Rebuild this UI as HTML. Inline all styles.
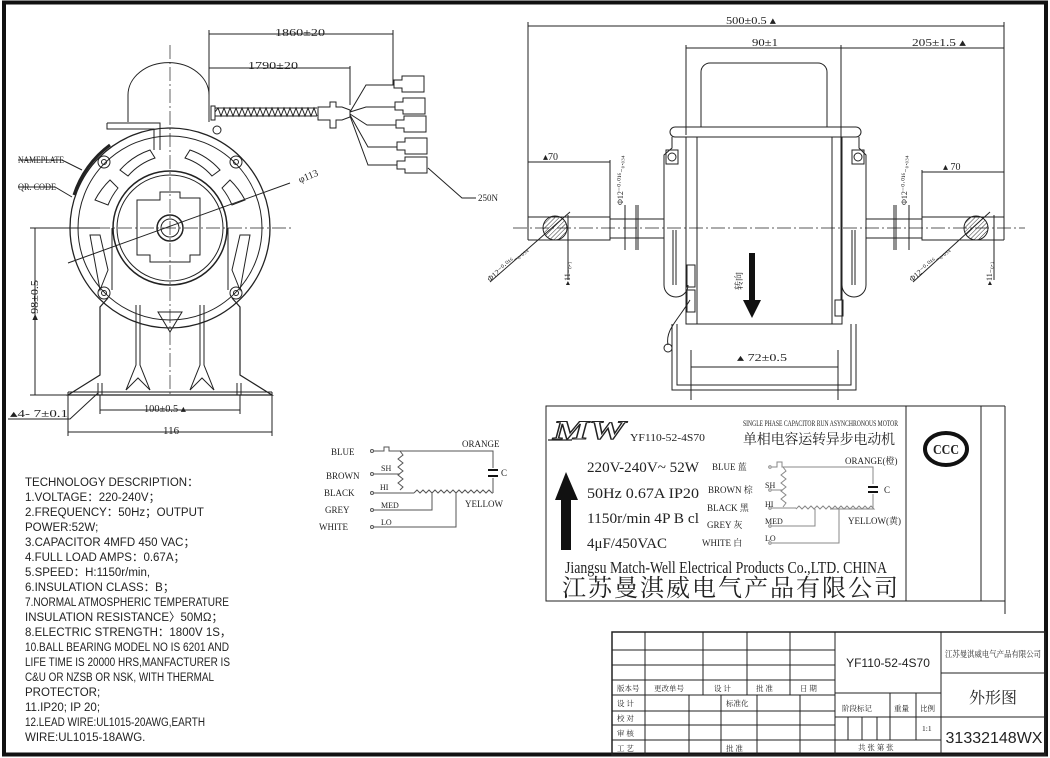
<!DOCTYPE html>
<html><head><meta charset="utf-8"><style>
html,body{margin:0;padding:0;background:#fff;}
svg{display:block;}
text{font-family:"Liberation Serif","Noto Serif CJK SC",serif;fill:#222;}
.s{font-family:"Liberation Sans","Noto Sans CJK SC",sans-serif;}
</style></head><body>
<svg width="1050" height="758" viewBox="0 0 1050 758" xmlns="http://www.w3.org/2000/svg">
<defs>
<pattern id="h" width="3" height="3" patternUnits="userSpaceOnUse" patternTransform="rotate(45)"><line x1="0" y1="0" x2="0" y2="3" stroke="#333" stroke-width="1"/></pattern>
</defs>
<rect x="0" y="0" width="1050" height="758" fill="#fff"/>
<rect x="4" y="2.5" width="1042" height="752" fill="none" stroke="#111" stroke-width="4"/>

<g fill="none" stroke="#222" stroke-width="1">
<line x1="209" y1="34" x2="393" y2="34"/><line x1="209" y1="30" x2="209" y2="112"/><line x1="393" y1="30" x2="393" y2="85"/>
<line x1="209" y1="68" x2="350" y2="68"/><line x1="350" y1="66" x2="350" y2="105"/>
<path d="M128 122 V95 A40 32 0 0 1 209 95 V122"/>
<path d="M107 123 H160 V150 M107 123 V129 H154 V150"/>
<circle cx="170" cy="228" r="100" stroke-width="1.3"/>
<circle cx="170" cy="228" r="92"/>
<circle cx="170" cy="228" r="57" stroke-width="1.5"/>
<circle cx="170" cy="228" r="53"/>
<path d="M160 192 H180 V198 H200 V255 H190 V262 H150 V255 H137 V200 H160 Z"/>
<circle cx="170" cy="228" r="13" stroke-width="1.5"/>
<circle cx="170" cy="228" r="9"/>
<path d="M120 170 A70 70 0 0 1 150 150 L155 158 A62 62 0 0 0 128 176 Z"/>
<path d="M220 170 A70 70 0 0 0 190 150 L185 158 A62 62 0 0 1 212 176 Z"/>
<path d="M95 200 A80 80 0 0 1 110 180 L118 188 A70 70 0 0 0 108 205 Z"/>
<path d="M245 200 A80 80 0 0 0 230 180 L222 188 A70 70 0 0 1 232 205 Z"/>
<path d="M90 235 L100 290 L108 270 L100 235 Z"/><path d="M250 235 L240 290 L232 270 L240 235 Z"/>
<line x1="112" y1="228" x2="112" y2="290"/><line x1="228" y1="228" x2="228" y2="290"/>
<circle cx="104" cy="162" r="6"/><circle cx="104" cy="162" r="2.5"/>
<circle cx="236" cy="162" r="6"/><circle cx="236" cy="162" r="2.5"/>
<circle cx="104" cy="293" r="6"/><circle cx="104" cy="293" r="2.5"/>
<circle cx="236" cy="293" r="6"/><circle cx="236" cy="293" r="2.5"/>
<circle cx="217" cy="130" r="4"/>
<path d="M108 298 L100 307 V375 L68 395 H272 L240 375 V307 L232 298" stroke-width="1.2"/>
<line x1="68" y1="392" x2="272" y2="392"/>
<path d="M136 305 V365 L126 390 M140 305 V365 L150 390 M200 305 V365 L190 390 M204 305 V365 L214 390"/>
<path d="M126 390 L138 378 L150 390 M190 390 L202 378 L214 390"/>
<path d="M158 312 H182 L170 332 Z"/>
<path d="M98 383 V395 M102 383 V395 M237 383 V395 M241 383 V395"/>
<path d="M74 195 A100 100 0 0 1 110 145" stroke-width="3"/>
<polyline points="18,160 62,160 82,170"/><polyline points="18,187 55,187 72,197"/>
<line x1="68" y1="263" x2="290" y2="183"/>
<line x1="30" y1="228" x2="292" y2="228" stroke-dasharray="14,3,2,3" stroke-width="0.7"/>
<line x1="170" y1="45" x2="170" y2="395" stroke-dasharray="14,3,2,3" stroke-width="0.7"/>
<rect x="211" y="106" width="4" height="14"/>
<path d="M215 108 h102 M215 116 h102"/>
<path d="M215 112 l3 -4 l3 8 l3 -8 l3 8 l3 -8 l3 8 l3 -8 l3 8 l3 -8 l3 8 l3 -8 l3 8 l3 -8 l3 8 l3 -8 l3 8 l3 -8 l3 8 l3 -8 l3 8 l3 -8 l3 8 l3 -8 l3 8 l3 -8 l3 8 l3 -8 l3 8 l3 -8 l3 8 l3 -8 l3 8 l3 -8 l3 8"/>
<path d="M318 107 H330 V102 H336 V107 H342 L350 110 V117 L342 120 H336 V128 H330 V120 H318 Z"/>
<path d="M350 112 L366 85 H394 M350 112 L366 107 H395 M350 114 L367 125 H396 M350 115 L368 147 H397 M350 116 L368 165 H397"/>
<path d="M394 80 h8 v-4 h22 v16 h-22 v-4 h-8 z"/>
<path d="M395 102 h8 v-4 h22 v16 h-22 v-4 h-8 z"/>
<path d="M396 120 h8 v-4 h22 v16 h-22 v-4 h-8 z"/>
<path d="M397 142 h8 v-4 h22 v16 h-22 v-4 h-8 z"/>
<path d="M397 161 h8 v-4 h22 v16 h-22 v-4 h-8 z"/>
<polyline points="428,168 462,198 476,198"/>
<line x1="35" y1="228" x2="35" y2="395"/><line x1="30" y1="228" x2="100" y2="228"/><line x1="30" y1="395" x2="68" y2="395"/>
<line x1="100" y1="395" x2="100" y2="414"/><line x1="240" y1="395" x2="240" y2="414"/>
<line x1="100" y1="410" x2="240" y2="410"/>
<line x1="68" y1="392" x2="68" y2="436"/><line x1="272" y1="392" x2="272" y2="436"/>
<line x1="68" y1="432" x2="272" y2="432"/>
<polyline points="8,419 70,419 98,393"/>

<line x1="528" y1="26" x2="1004" y2="26"/>
<line x1="528" y1="22" x2="528" y2="240"/><line x1="1004" y1="22" x2="1004" y2="240"/>
<line x1="686" y1="48" x2="1004" y2="48"/>
<line x1="686" y1="45" x2="686" y2="135"/><line x1="841" y1="45" x2="841" y2="300"/>
<path d="M701 127 V72 A9 9 0 0 1 710 63 H818 A9 9 0 0 1 827 72 V127"/>
<rect x="670" y="127" width="191" height="10" rx="5"/>
<rect x="686" y="137" width="156" height="187"/>
<line x1="697" y1="137" x2="697" y2="324"/><line x1="832" y1="137" x2="832" y2="324"/>
<path d="M672 137 V148 L664 155 V285 A12 12 0 0 0 688 285"/>
<path d="M859 137 V148 L866 155 V285 A12 12 0 0 1 842 285"/>
<rect x="666" y="150" width="12" height="14"/><circle cx="672" cy="157" r="4"/>
<rect x="852" y="150" width="12" height="14"/><circle cx="858" cy="157" r="4"/>
<line x1="673" y1="230" x2="673" y2="285"/><line x1="676" y1="230" x2="676" y2="285"/>
<line x1="852" y1="230" x2="852" y2="285"/><line x1="855" y1="230" x2="855" y2="285"/>
<path d="M528 217 H610 V219 H664 M528 240 H610 V238 H664 M528 217 V240"/>
<path d="M1004 217 H922 V219 H866 M1004 240 H922 V238 H866 M1004 217 V240"/>
<line x1="610" y1="217" x2="610" y2="240"/><line x1="922" y1="217" x2="922" y2="240"/>
<path d="M636 205 V250 M638 205 V250 M894 205 V250 M896 205 V250"/>
<circle cx="555" cy="228" r="12" fill="url(#h)"/>
<circle cx="976" cy="228" r="12" fill="url(#h)"/>
<line x1="513" y1="228" x2="1025" y2="228" stroke-dasharray="14,3,2,3" stroke-width="0.7"/>
<path d="M672 324 V390 H856 V324 M677 324 V385 H851 V324"/>
<path d="M690 300 C678 320 665 330 668 345"/><circle cx="668" cy="348" r="4"/>
<rect x="687" y="265" width="8" height="22"/><rect x="687" y="290" width="8" height="22"/>
<rect x="835" y="300" width="8" height="16"/>
<line x1="528" y1="162" x2="610" y2="162"/><line x1="610" y1="160" x2="610" y2="217"/>
<line x1="922" y1="172" x2="1004" y2="172"/><line x1="922" y1="170" x2="922" y2="217"/>
<line x1="691" y1="367" x2="838" y2="367"/><line x1="691" y1="350" x2="691" y2="400"/><line x1="838" y1="350" x2="838" y2="400"/>
<line x1="625" y1="205" x2="625" y2="250"/><line x1="909" y1="205" x2="909" y2="250"/>
<line x1="568" y1="215" x2="568" y2="280"/><line x1="994" y1="215" x2="994" y2="280"/>
<line x1="490" y1="282" x2="570" y2="212"/><line x1="913" y1="282" x2="990" y2="212"/>

<g stroke="#555">
<circle cx="372" cy="451" r="1.5"/><circle cx="372" cy="474" r="1.5"/><circle cx="372" cy="493" r="1.5"/><circle cx="372" cy="510" r="1.5"/><circle cx="372" cy="527" r="1.5"/>
<path d="M374 451 H384 V447 H389 V451 H493 V468 M493 478 V493"/>
<path d="M400 451 l3 4 l-5 4 l5 4 l-5 4 l5 4 l-5 4 l5 4 l-5 4 l5 4 l-3 3"/>
<path d="M374 474 H400 M374 493 H414"/>
<path d="M414 493 l3 -3 l3 3 l3 -3 l3 3 l3 -3 l3 3 l3 -3 l3 3 l3 -3 l3 3 l3 -3 l3 3 l3 -3 l3 3 l3 -3 l3 3 l3 -3 l3 3 l3 -3 l3 3 l3 -3 l3 3 l3 -3 l3 3 l3 -3 l3 3 H493"/>
<path d="M374 510 H432 V493 M374 527 H456 V493"/>
<path d="M488 470 H498 M488 476 H498" stroke="#111" stroke-width="2"/>
</g>

<rect x="546" y="406" width="435" height="195"/>
<line x1="906" y1="406" x2="906" y2="601"/>
<line x1="981" y1="406" x2="1005" y2="406"/><line x1="1005" y1="406" x2="1005" y2="614"/>
<line x1="546" y1="601" x2="1005" y2="601"/>
<path d="M548 440 H572" stroke-width="1.2"/>
<ellipse cx="946" cy="449" rx="21" ry="16" stroke="#111" stroke-width="4"/>
<g stroke="#888">
<circle cx="770" cy="467" r="1.3"/><circle cx="770" cy="490" r="1.3"/><circle cx="770" cy="508" r="1.3"/><circle cx="770" cy="526" r="1.3"/><circle cx="770" cy="543" r="1.3"/>
<path d="M772 467 H777 V462 H782 V467 H873 V484 M873 494 V509 H830"/>
<path d="M783 467 l3 4 l-5 4 l5 4 l-5 4 l5 4 l-5 4 l5 4 l-5 4 l5 4 l-3 4"/>
<path d="M772 490 H783 M772 508 H796"/>
<path d="M796 509 l3 -3 l3 3 l3 -3 l3 3 l3 -3 l3 3 l3 -3 l3 3 l3 -3 l3 3 l3 -3 l3 3 l3 -3 l3 3 l3 -3 l3 3 l3 -3 l3 3 l3 -3 l3 3 l3 -3 l3 3 l3 -3 l3 3 l3 -3 l3 3 H873"/>
<path d="M772 526 H815 V509 M772 543 H839 V509"/>
</g>
<path d="M868 487 H878 M868 492 H878" stroke="#111" stroke-width="2"/>

<rect x="612" y="632" width="433" height="123" stroke-width="1.5"/>
<path d="M835 632 V755 M941 632 V755"/>
<path d="M612 650 H835 M612 665 H835 M612 680 H835 M612 695 H835 M612 711 H835 M612 725 H835 M612 740 H835"/>
<path d="M645 632 V755 M703 632 V695 M747 632 V695 M790 632 V695"/>
<path d="M689 695 V755 M721 695 V755 M757 695 V755 M800 695 V755"/>
<path d="M835 693 H941 M835 717 H941 M835 740 H941"/>
<path d="M890 693 V740 M916 693 V740 M848 717 V740 M862 717 V740 M877 717 V740"/>
<path d="M941 673 H1045 M941 717 H1045"/>
</g>
<path d="M555 500 L566 472 L578 500 H571 V550 H561 V500 Z" fill="#111"/>
<path d="M749 253 V300 H743 L752 318 L761 300 H755 V253 Z" fill="#111"/>

<text x="553" y="439" font-size="26" font-style="italic" font-weight="bold" fill="none" stroke="#222" stroke-width="1" textLength="72" lengthAdjust="spacingAndGlyphs" style="fill:none">MW</text>

<g font-size="11">
<text x="275" y="36" textLength="50" lengthAdjust="spacingAndGlyphs">1860±20</text>
<text x="248" y="69" textLength="50" lengthAdjust="spacingAndGlyphs">1790±20</text>
<text x="18" y="163" font-size="9" textLength="46" lengthAdjust="spacingAndGlyphs">NAMEPLATE</text>
<text x="18" y="190" font-size="9" textLength="38" lengthAdjust="spacingAndGlyphs">QR. CODE</text>
<text x="300" y="183" font-size="10" transform="rotate(-22 300 183)">φ113</text>
<text x="478" y="201" font-size="9">250N</text>
<text x="38" y="320" transform="rotate(-90 38 320)" textLength="40" lengthAdjust="spacingAndGlyphs">▸98±0.5</text>
<text x="144" y="412" font-size="10" textLength="42" lengthAdjust="spacingAndGlyphs">100±0.5 ▴</text>
<text x="163" y="434">116</text>
<text x="10" y="417" font-size="10" textLength="58" lengthAdjust="spacingAndGlyphs">▴4-   7±0.1</text>

<text x="726" y="24" textLength="50" lengthAdjust="spacingAndGlyphs">500±0.5 ▴</text>
<text x="752" y="46" textLength="26" lengthAdjust="spacingAndGlyphs">90±1</text>
<text x="912" y="46" textLength="54" lengthAdjust="spacingAndGlyphs">205±1.5  ▴</text>
<text x="543" y="160" font-size="10">▴70</text>
<text x="943" y="170" font-size="10">▴  70</text>
<text x="737" y="361" font-size="10" textLength="50" lengthAdjust="spacingAndGlyphs">▴ 72±0.5</text>
<text x="623" y="205" font-size="8" transform="rotate(-90 623 205)">Φ12⁻⁰·⁰¹⁶₋₀.₀₃₄</text>
<text x="907" y="205" font-size="8" transform="rotate(-90 907 205)">Φ12⁻⁰·⁰¹⁶₋₀.₀₃₄</text>
<text x="490" y="282" font-size="8" transform="rotate(-40 490 282)">Φ12⁻⁰·⁰¹⁶₋₀.₀₃₄</text>
<text x="912" y="282" font-size="8" transform="rotate(-40 912 282)">Φ12⁻⁰·⁰¹⁶₋₀.₀₃₄</text>
<text x="570" y="285" font-size="8" transform="rotate(-90 570 285)">▸11₋₀.₁</text>
<text x="992" y="285" font-size="8" transform="rotate(-90 992 285)">▸11₋₀.₁</text>
<text x="742" y="290" font-size="9" transform="rotate(-90 742 290)">转向</text>
</g>

<g font-size="9">
<text x="331" y="455">BLUE</text><text x="326" y="479">BROWN</text><text x="324" y="496">BLACK</text>
<text x="325" y="513">GREY</text><text x="319" y="530">WHITE</text>
<text x="462" y="447">ORANGE</text><text x="465" y="507">YELLOW</text><text x="501" y="476">C</text>
<text x="381" y="471" font-size="8">SH</text><text x="380" y="490" font-size="8">HI</text>
<text x="381" y="508" font-size="8">MED</text><text x="381" y="525" font-size="8">LO</text>
</g>

<g font-size="11.5">
<text x="25" y="486" class="s">TECHNOLOGY DESCRIPTION：</text>
<text x="25" y="501" class="s">1.VOLTAGE：220-240V；</text>
<text x="25" y="516" class="s">2.FREQUENCY：50Hz；OUTPUT</text>
<text x="25" y="531" class="s">POWER:52W;</text>
<text x="25" y="546" class="s">3.CAPACITOR 4MFD 450 VAC；</text>
<text x="25" y="561" class="s">4.FULL LOAD  AMPS：0.67A；</text>
<text x="25" y="576" class="s">5.SPEED：H:1150r/min,</text>
<text x="25" y="591" class="s">6.INSULATION CLASS：B；</text>
<text x="25" y="606" class="s" textLength="204" lengthAdjust="spacingAndGlyphs">7.NORMAL ATMOSPHERIC TEMPERATURE</text>
<text x="25" y="621" class="s">INSULATION RESISTANCE〉50MΩ；</text>
<text x="25" y="636" class="s">8.ELECTRIC  STRENGTH：1800V 1S，</text>
<text x="25" y="651" class="s" textLength="204" lengthAdjust="spacingAndGlyphs">10.BALL  BEARING MODEL NO IS 6201 AND</text>
<text x="25" y="666" class="s" textLength="205" lengthAdjust="spacingAndGlyphs">LIFE TIME IS 20000 HRS,MANFACTURER IS</text>
<text x="25" y="681" class="s" textLength="189" lengthAdjust="spacingAndGlyphs">C&amp;U OR NZSB OR NSK, WITH THERMAL</text>
<text x="25" y="696" class="s">PROTECTOR;</text>
<text x="25" y="711" class="s">11.IP20; IP 20;</text>
<text x="25" y="726" class="s" textLength="180" lengthAdjust="spacingAndGlyphs">12.LEAD WIRE:UL1015-20AWG,EARTH</text>
<text x="25" y="741" class="s">WIRE:UL1015-18AWG.</text>
</g>

<text x="630" y="441" font-size="11" textLength="75" lengthAdjust="spacingAndGlyphs">YF110-52-4S70</text>
<text x="743" y="426" font-size="8" textLength="155" lengthAdjust="spacingAndGlyphs">SINGLE PHASE CAPACITOR RUN ASYNCHRONOUS MOTOR</text>
<text x="743" y="444" font-size="14" textLength="152" lengthAdjust="spacing">单相电容运转异步电动机</text>
<g font-size="15">
<text x="587" y="472" textLength="112" lengthAdjust="spacingAndGlyphs">220V-240V~   52W</text>
<text x="587" y="498" textLength="112" lengthAdjust="spacingAndGlyphs">50Hz  0.67A  IP20</text>
<text x="587" y="523" textLength="112" lengthAdjust="spacingAndGlyphs">1150r/min 4P  B cl</text>
<text x="587" y="548" textLength="80" lengthAdjust="spacingAndGlyphs">4μF/450VAC</text>
</g>
<g font-size="9">
<text x="712" y="470">BLUE 蓝</text><text x="708" y="493">BROWN 棕</text><text x="707" y="511">BLACK 黑</text>
<text x="707" y="528">GREY 灰</text><text x="702" y="546">WHITE 白</text>
<text x="845" y="464">ORANGE(橙)</text><text x="848" y="524">YELLOW(黄)</text><text x="884" y="493">C</text>
<text x="765" y="488" font-size="8">SH</text><text x="765" y="507" font-size="8">HI</text>
<text x="765" y="524" font-size="8">MED</text><text x="765" y="541" font-size="8">LO</text>
</g>
<text x="565" y="573" font-size="17" textLength="322" lengthAdjust="spacingAndGlyphs">Jiangsu Match-Well Electrical Products  Co.,LTD. CHINA</text>
<text x="562" y="596" font-size="24" textLength="336" lengthAdjust="spacing">江苏曼淇威电气产品有限公司</text>
<text x="946" y="454" font-size="14" font-weight="bold" text-anchor="middle" textLength="26" lengthAdjust="spacingAndGlyphs">CCC</text>

<text x="888" y="667" class="s" font-size="12" text-anchor="middle">YF110-52-4S70</text>
<text x="993" y="657" font-size="8.5" text-anchor="middle" textLength="96" lengthAdjust="spacingAndGlyphs">江苏曼淇威电气产品有限公司</text>
<text x="993" y="703" font-size="16" text-anchor="middle">外形图</text>
<text x="994" y="743" class="s" font-size="16" text-anchor="middle">31332148WX</text>
<g font-size="7.5" fill="#444">
<text x="617" y="691">版本号</text><text x="654" y="691">更改单号</text><text x="714" y="691">设 计</text>
<text x="756" y="691">批 准</text><text x="800" y="691">日 期</text>
<text x="617" y="706">设 计</text><text x="726" y="706">标准化</text>
<text x="617" y="721">校 对</text><text x="617" y="736">审 核</text><text x="617" y="751">工 艺</text>
<text x="726" y="751">批 准</text>
<text x="842" y="711">阶段标记</text><text x="894" y="711">重量</text><text x="920" y="711">比例</text>
<text x="922" y="731">1:1</text><text x="858" y="750">共   张   第   张</text>
</g>
</svg>
</body></html>
